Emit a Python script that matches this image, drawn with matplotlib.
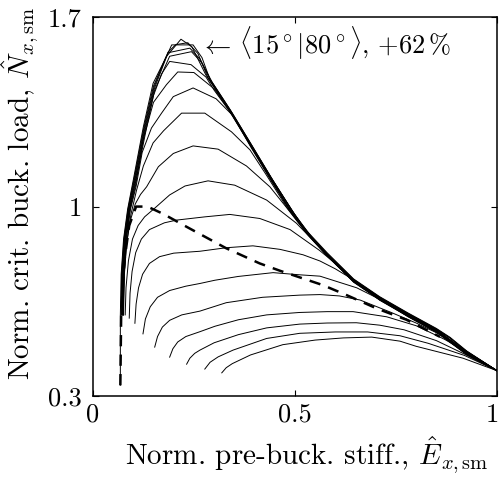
import matplotlib
matplotlib.use("Agg")
import matplotlib.pyplot as plt
from matplotlib.transforms import ScaledTranslation

plt.rcParams['font.family'] = 'serif'
plt.rcParams['font.serif'] = ['cmr10']
plt.rcParams['mathtext.fontset'] = 'cm'
plt.rcParams['axes.formatter.use_mathtext'] = True

# curves of the family, named by their peak value
x_162 = [0.068, 0.068, 0.070, 0.076, 0.086, 0.100, 0.125, 0.149, 0.182, 0.218, 0.245, 0.28, 0.33, 0.38, 0.43, 0.48, 0.53, 0.58, 0.645, 0.71, 0.78, 0.85, 0.884, 0.925, 1.0]
y_162 = [0.34, 0.60, 0.75, 0.88, 0.99, 1.098, 1.295, 1.455, 1.554, 1.618, 1.590, 1.485, 1.374, 1.251, 1.127, 1.004, 0.909, 0.829, 0.733, 0.667, 0.607, 0.550, 0.517, 0.467, 0.394]
x_1605 = [0.070, 0.071, 0.077, 0.087, 0.101, 0.126, 0.150, 0.186, 0.205, 0.235, 0.26, 0.285, 0.335, 0.385, 0.435, 0.485, 0.53, 0.58, 0.645, 0.71, 0.78, 0.85, 0.884, 0.925, 1.0]
y_1605 = [0.60, 0.75, 0.88, 0.99, 1.095, 1.29, 1.445, 1.57, 1.598, 1.605, 1.565, 1.475, 1.363, 1.240, 1.117, 0.995, 0.906, 0.826, 0.731, 0.665, 0.605, 0.548, 0.515, 0.465, 0.394]
x_1598 = [0.071, 0.072, 0.078, 0.088, 0.102, 0.127, 0.151, 0.175, 0.195, 0.248, 0.27, 0.29, 0.34, 0.39, 0.44, 0.49, 0.53, 0.58, 0.645, 0.71, 0.78, 0.85, 0.884, 0.925, 1.0]
y_1598 = [0.60, 0.75, 0.88, 0.99, 1.093, 1.287, 1.44, 1.53, 1.597, 1.597, 1.55, 1.468, 1.355, 1.232, 1.108, 0.99, 0.904, 0.824, 0.730, 0.664, 0.604, 0.547, 0.514, 0.464, 0.394]
x_1585 = [0.072, 0.073, 0.079, 0.089, 0.103, 0.128, 0.152, 0.186, 0.24, 0.265, 0.29, 0.34, 0.39, 0.44, 0.49, 0.53, 0.58, 0.645, 0.71, 0.78, 0.85, 0.925, 1.0]
y_1585 = [0.60, 0.75, 0.88, 0.99, 1.09, 1.283, 1.435, 1.568, 1.585, 1.545, 1.470, 1.357, 1.234, 1.11, 0.992, 0.903, 0.823, 0.729, 0.663, 0.603, 0.546, 0.463, 0.394]
x_1572 = [0.073, 0.074, 0.080, 0.090, 0.104, 0.129, 0.153, 0.19, 0.244, 0.27, 0.295, 0.345, 0.395, 0.445, 0.495, 0.535, 0.58, 0.645, 0.71, 0.78, 0.85, 0.925, 1.0]
y_1572 = [0.60, 0.75, 0.88, 0.99, 1.088, 1.28, 1.43, 1.555, 1.572, 1.53, 1.46, 1.345, 1.222, 1.098, 0.98, 0.897, 0.822, 0.728, 0.662, 0.602, 0.545, 0.462, 0.394]
x_1536 = [0.074, 0.075, 0.081, 0.091, 0.105, 0.13, 0.15, 0.17, 0.19, 0.243, 0.28, 0.30, 0.35, 0.40, 0.45, 0.50, 0.54, 0.58, 0.645, 0.71, 0.78, 0.85, 0.925, 1.0]
y_1536 = [0.60, 0.75, 0.88, 0.99, 1.085, 1.27, 1.41, 1.49, 1.536, 1.524, 1.478, 1.43, 1.328, 1.205, 1.085, 0.97, 0.89, 0.82, 0.727, 0.661, 0.601, 0.544, 0.461, 0.394]
x_1499 = [0.075, 0.076, 0.082, 0.092, 0.106, 0.125, 0.15, 0.182, 0.21, 0.25, 0.30, 0.335, 0.385, 0.435, 0.485, 0.53, 0.58, 0.645, 0.71, 0.78, 0.85, 0.925, 1.0]
y_1499 = [0.60, 0.75, 0.88, 0.99, 1.08, 1.25, 1.385, 1.45, 1.497, 1.495, 1.435, 1.36, 1.237, 1.113, 0.993, 0.902, 0.821, 0.726, 0.660, 0.600, 0.543, 0.460, 0.394]
x_1438 = [0.075, 0.077, 0.083, 0.093, 0.107, 0.122, 0.145, 0.17, 0.199, 0.248, 0.305, 0.347, 0.39, 0.44, 0.49, 0.53, 0.58, 0.645, 0.71, 0.78, 0.85, 0.925, 1.0]
y_1438 = [0.60, 0.75, 0.88, 0.99, 1.075, 1.2, 1.29, 1.345, 1.406, 1.438, 1.398, 1.335, 1.222, 1.098, 0.98, 0.901, 0.820, 0.725, 0.659, 0.599, 0.542, 0.459, 0.394]
x_1348 = [0.076, 0.078, 0.084, 0.094, 0.108, 0.125, 0.149, 0.175, 0.2195, 0.277, 0.343, 0.389, 0.43, 0.48, 0.53, 0.58, 0.645, 0.71, 0.78, 0.85, 0.925, 1.0]
y_1348 = [0.60, 0.75, 0.87, 0.97, 1.06, 1.15, 1.235, 1.28, 1.345, 1.345, 1.276, 1.209, 1.115, 0.997, 0.9, 0.819, 0.724, 0.658, 0.598, 0.541, 0.458, 0.394]
x_1226 = [0.075, 0.077, 0.083, 0.093, 0.105, 0.118, 0.133, 0.162, 0.199, 0.248, 0.31, 0.38, 0.438, 0.48, 0.53, 0.58, 0.645, 0.71, 0.78, 0.85, 0.925, 1.0]
y_1226 = [0.60, 0.74, 0.86, 0.95, 1.01, 1.045, 1.073, 1.147, 1.196, 1.224, 1.212, 1.15, 1.073, 0.995, 0.899, 0.818, 0.723, 0.657, 0.597, 0.540, 0.457, 0.394]
x_1095 = [0.080, 0.082, 0.088, 0.098, 0.112, 0.128, 0.153, 0.19, 0.228, 0.285, 0.351, 0.43, 0.504, 0.53, 0.58, 0.645, 0.71, 0.78, 0.85, 0.925, 1.0]
y_1095 = [0.60, 0.70, 0.80, 0.88, 0.93, 0.962, 0.994, 1.043, 1.076, 1.095, 1.079, 1.024, 0.938, 0.898, 0.817, 0.722, 0.656, 0.596, 0.539, 0.456, 0.394]
x_0972 = [0.090, 0.092, 0.097, 0.106, 0.12, 0.14, 0.177, 0.207, 0.277, 0.339, 0.413, 0.488, 0.561, 0.60, 0.645, 0.71, 0.78, 0.85, 0.925, 1.0]
y_0972 = [0.588, 0.68, 0.76, 0.83, 0.88, 0.915, 0.94, 0.95, 0.962, 0.971, 0.956, 0.915, 0.838, 0.79, 0.721, 0.655, 0.595, 0.538, 0.455, 0.394]
x_0855 = [0.104, 0.107, 0.113, 0.123, 0.14, 0.165, 0.20, 0.265, 0.33, 0.396, 0.463, 0.52, 0.562, 0.60, 0.64, 0.71, 0.78, 0.85, 0.925, 1.0]
y_0855 = [0.569, 0.64, 0.70, 0.75, 0.79, 0.815, 0.828, 0.835, 0.848, 0.855, 0.842, 0.822, 0.799, 0.77, 0.734, 0.654, 0.594, 0.537, 0.454, 0.394]
x_0756 = [0.124, 0.13, 0.142, 0.16, 0.19, 0.23, 0.265, 0.302, 0.36, 0.446, 0.512, 0.562, 0.653, 0.72, 0.78, 0.85, 0.925, 1.0]
y_0756 = [0.53, 0.585, 0.63, 0.665, 0.69, 0.706, 0.716, 0.728, 0.742, 0.756, 0.748, 0.743, 0.70, 0.65, 0.593, 0.536, 0.453, 0.394]
x_0675 = [0.153, 0.16, 0.172, 0.19, 0.22, 0.265, 0.33, 0.42, 0.512, 0.562, 0.61, 0.661, 0.735, 0.80, 0.87, 0.935, 1.0]
y_0675 = [0.481, 0.52, 0.555, 0.58, 0.60, 0.614, 0.645, 0.665, 0.673, 0.675, 0.67, 0.655, 0.611, 0.57, 0.52, 0.455, 0.394]
x_0612 = [0.19, 0.198, 0.21, 0.23, 0.265, 0.302, 0.36, 0.43, 0.512, 0.58, 0.644, 0.727, 0.80, 0.87, 0.935, 1.0]
y_0612 = [0.444, 0.475, 0.50, 0.52, 0.538, 0.558, 0.582, 0.60, 0.609, 0.612, 0.612, 0.593, 0.56, 0.51, 0.455, 0.394]
x_0571 = [0.232, 0.24, 0.252, 0.265, 0.30, 0.36, 0.43, 0.512, 0.58, 0.652, 0.71, 0.77, 0.85, 0.92, 1.0]
y_0571 = [0.418, 0.44, 0.458, 0.47, 0.497, 0.527, 0.552, 0.566, 0.57, 0.571, 0.562, 0.545, 0.505, 0.455, 0.394]
x_0537 = [0.277, 0.29, 0.31, 0.347, 0.43, 0.512, 0.60, 0.68, 0.76, 0.83, 0.92, 1.0]
y_0537 = [0.40, 0.425, 0.445, 0.47, 0.513, 0.532, 0.537, 0.537, 0.523, 0.495, 0.45, 0.394]
x_0517 = [0.319, 0.33, 0.345, 0.39, 0.47, 0.55, 0.62, 0.69, 0.76, 0.80, 0.916, 1.0]
y_0517 = [0.386, 0.405, 0.42, 0.452, 0.49, 0.507, 0.515, 0.518, 0.503, 0.484, 0.44, 0.394]

# dashed reference curve
x_ref = [0.068, 0.070, 0.078, 0.090, 0.107, 0.135, 0.174, 0.231, 0.33, 0.413, 0.463, 0.495, 0.569, 0.628, 0.702, 0.776, 0.859]
y_ref = [0.34, 0.60, 0.80, 0.93, 1.0, 1.0, 0.973, 0.926, 0.846, 0.79, 0.763, 0.747, 0.71, 0.673, 0.624, 0.582, 0.519]

curves = [(x_162, y_162), (x_1605, y_1605), (x_1598, y_1598), (x_1585, y_1585),
          (x_1572, y_1572), (x_1536, y_1536), (x_1499, y_1499), (x_1438, y_1438),
          (x_1348, y_1348), (x_1226, y_1226), (x_1095, y_1095), (x_0972, y_0972),
          (x_0855, y_0855), (x_0756, y_0756), (x_0675, y_0675), (x_0612, y_0612),
          (x_0571, y_0571), (x_0537, y_0537), (x_0517, y_0517)]

fig = plt.figure(figsize=(5.02, 4.79), dpi=100)
ax = fig.add_axes([0.185, 0.173, 0.805, 0.7915])

for cx, cy in curves:
    ax.plot(cx, cy, color='black', lw=0.7)
ax.plot(x_ref, y_ref, color='black', lw=1.8, dashes=(4.5, 3.3))

ax.set_xlim(0, 1)
ax.set_ylim(0.3, 1.7)
ax.set_xticks([0, 0.5, 1])
ax.set_xticklabels(['0', '0.5', '1'])
ax.set_yticks([0.3, 1, 1.7])
ax.set_yticklabels(['0.3', '1', '1.7'])
ax.tick_params(direction='in', length=4, width=0.8, top=True, right=True,
               labelsize=19)
ax.tick_params(axis='x', pad=5)
ax.tick_params(axis='y', pad=8)
for s in ax.spines.values():
    s.set_linewidth(1.1)

# keep the last x tick label inside the figure
last = ax.get_xticklabels()[-1]
last.set_transform(last.get_transform() + ScaledTranslation(-3 / 72, 0, fig.dpi_scale_trans))

ax.set_xlabel(r'Norm. pre-buck. stiff., $\hat{E}_{x,\mathrm{sm}}$', fontsize=21)
ax.set_ylabel(r'Norm. crit. buck. load, $\hat{N}_{x,\mathrm{sm}}$', fontsize=21)
ax.xaxis.set_label_coords(0.53, -0.10)
ax.yaxis.set_label_coords(-0.13, 0.535)

ax.text(0.265, 1.604, r'$\leftarrow\,\langle 15^\circ | 80^\circ \rangle$, $+62\,\%$',
        fontsize=19, va='center', ha='left')

fig.savefig('out.png', dpi=100)
